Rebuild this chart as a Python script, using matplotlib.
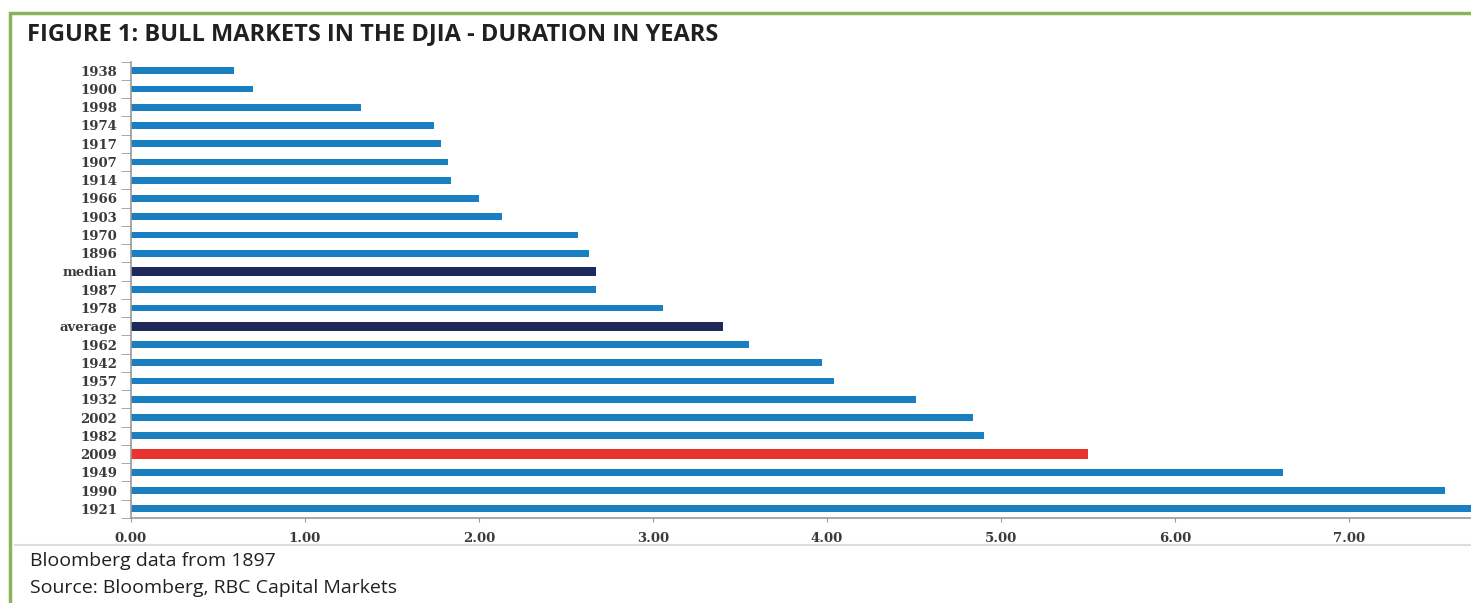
import matplotlib.pyplot as plt
import numpy as np
from matplotlib.lines import Line2D
from matplotlib.patches import Rectangle

# Bull market durations (years), top to bottom as shown
labels = ['1938', '1900', '1998', '1974', '1917', '1907', '1914', '1966', '1903',
          '1970', '1896', 'median', '1987', '1978', 'average', '1962', '1942',
          '1957', '1932', '2002', '1982', '2009', '1949', '1990', '1921']
years = [0.59, 0.70, 1.32, 1.74, 1.78, 1.82, 1.84, 2.00, 2.13,
         2.57, 2.63, 2.67, 2.67, 3.06, 3.40, 3.55, 3.97,
         4.04, 4.51, 4.84, 4.90, 5.50, 6.62, 7.55, 7.80]
xticks = [0, 1, 2, 3, 4, 5, 6, 7]

blue = '#1a7fc1'
navy = '#1f2a5c'
red = '#e8332e'
colors = []
heights = []
for lab in labels:
    if lab in ('median', 'average'):
        colors.append(navy)
        heights.append(0.48)
    elif lab == '2009':
        colors.append(red)
        heights.append(0.52)
    else:
        colors.append(blue)
        heights.append(0.37)

fig = plt.figure(figsize=(14.71, 6.03), dpi=100)
ax = fig.add_axes([0.089, 0.141, 0.911, 0.757])

y = np.arange(len(labels))
ax.barh(y, years, height=heights, color=colors)
ax.set_ylim(len(labels) - 0.5, -0.5)
ax.set_xlim(0, 7.7)

ax.set_yticks(y)
ax.set_yticklabels(labels, family='DejaVu Serif', fontsize=9.5, fontweight='bold', color='#3a3a3a')
ax.set_yticks(np.arange(-0.5, len(labels), 1), minor=True)
ax.tick_params(axis='y', which='major', length=0, pad=10)
ax.tick_params(axis='y', which='minor', length=7, color='#999999', direction='out')

ax.set_xticks(xticks)
ax.set_xticklabels([f'{v:.2f}' for v in xticks], family='DejaVu Serif', fontsize=9.5,
                   fontweight='bold', color='#3a3a3a')
ax.tick_params(axis='x', length=3, color='#999999', pad=7)

for s in ['top', 'right']:
    ax.spines[s].set_visible(False)
ax.spines['left'].set_color('#999999')
ax.spines['bottom'].set_color('#999999')
ax.spines['left'].set_linewidth(1.2)
ax.spines['bottom'].set_linewidth(1.2)

# green frame and separator
fig.patches.append(Rectangle((10 / 1471, -0.1), 1.2, 1 - 13 / 603 + 0.1, transform=fig.transFigure,
                             fill=False, edgecolor='#8db359', linewidth=2.5))
fig.lines.append(Line2D([15 / 1471, 1], [1 - 545 / 603] * 2, transform=fig.transFigure,
                        color='#dddddd', linewidth=1.5))

fig.text(27 / 1471, 1 - 34 / 603, 'FIGURE 1: BULL MARKETS IN THE DJIA - DURATION IN YEARS',
         family='Open Sans', fontweight='bold', fontsize=17, color='#231f20', va='center')
fig.text(30 / 1471, 1 - 561 / 603, 'Bloomberg data from 1897', family='Open Sans',
         fontsize=14, color='#231f20', va='center')
fig.text(30 / 1471, 1 - 588 / 603, 'Source: Bloomberg, RBC Capital Markets', family='Open Sans',
         fontsize=14, color='#231f20', va='center')

fig.savefig('out.png', dpi=100)
